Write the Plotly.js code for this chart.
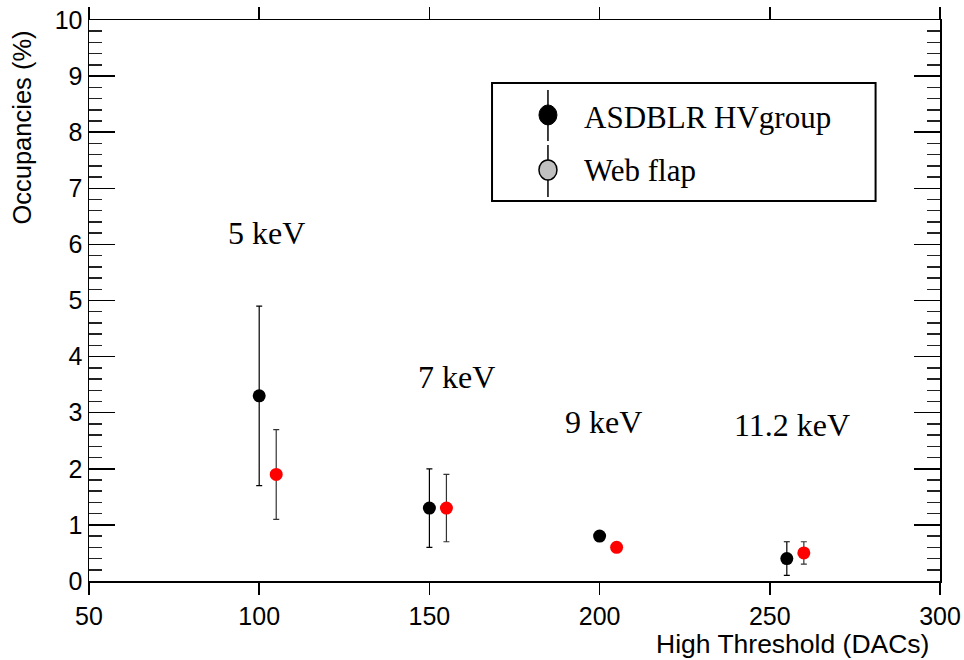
<!DOCTYPE html>
<html>
<head>
<meta charset="utf-8">
<script src="https://cdn.plot.ly/plotly-3.0.1.min.js"></script>
<style>html,body{margin:0;padding:0;background:#fff;}#chart{width:964px;height:660px;}</style>
</head>
<body>
<div id="chart"></div>
<script>
// High threshold scan: occupancy per DAC setting
const hvX = [100, 150, 200, 255];
const hvY = [3.3, 1.3, 0.8, 0.4];
const hvErr = [1.6, 0.7, 0.05, 0.3];

const webX = [105, 155, 205, 260];
const webY = [1.9, 1.3, 0.6, 0.5];
const webErr = [0.8, 0.6, 0.05, 0.2];

const energyLabels = ['5 keV', '7 keV', '9 keV', '11.2 keV'];
const energyX = [102, 158, 201, 256.5];
const energyY = [6.2, 3.64, 2.84, 2.78];

const legendNames = ['ASDBLR HVgroup', 'Web flap'];

const traces = [
  {
    x: hvX, y: hvY, type: 'scatter', mode: 'markers', name: legendNames[0],
    marker: {color: '#000', size: 13},
    error_y: {type: 'data', array: hvErr, visible: true, color: '#000', thickness: 1.2, width: 3}
  },
  {
    x: webX, y: webY, type: 'scatter', mode: 'markers', name: legendNames[1],
    marker: {color: '#ff0000', size: 13},
    error_y: {type: 'data', array: webErr, visible: true, color: '#333', thickness: 1.2, width: 3}
  }
];

const W = 964, H = 660;
const mL = 88.5, mR = 23.5, mT = 20, mB = 78.7;
const pw = W - mL - mR, ph = H - mT - mB;
const px = v => (v - mL) / pw;          // pixel x -> paper
const py = v => (H - mB - v) / ph;      // pixel y -> paper

const serif = 'Liberation Serif, Times New Roman, serif';
const sans = 'Liberation Sans, Arial, sans-serif';

const annotations = energyLabels.map((t, i) => ({
  x: energyX[i], y: energyY[i], xref: 'x', yref: 'y', text: t, showarrow: false,
  font: {family: serif, size: 32, color: '#000'}
}));

annotations.push({
  x: px(931), y: py(644), xref: 'paper', yref: 'paper', xanchor: 'right', yanchor: 'middle',
  text: 'High Threshold (DACs)', showarrow: false,
  font: {family: sans, size: 26.5, color: '#000'}
});
annotations.push({
  x: px(21), y: py(29), xref: 'paper', yref: 'paper', xanchor: 'center', yanchor: 'top',
  text: 'Occupancies (%)', textangle: -90, showarrow: false,
  font: {family: sans, size: 25.5, color: '#000'}
});

const legendRows = [118, 171];
legendNames.forEach((n, i) => {
  annotations.push({
    x: px(582), y: py(legendRows[i]), xref: 'paper', yref: 'paper', xanchor: 'left', yanchor: 'middle',
    text: n, showarrow: false,
    font: {family: serif, size: 31, color: '#000'}
  });
});

const shapes = [
  // legend frame
  {type: 'rect', xref: 'paper', yref: 'paper', x0: px(492), x1: px(876), y0: py(201), y1: py(83),
   line: {color: '#000', width: 2}, fillcolor: '#fff', layer: 'above'},
  // legend error-bar strokes
  {type: 'line', xref: 'paper', yref: 'paper', x0: px(548), x1: px(548), y0: py(90), y1: py(141),
   line: {color: '#000', width: 1.5}},
  {type: 'line', xref: 'paper', yref: 'paper', x0: px(548), x1: px(548), y0: py(145), y1: py(197),
   line: {color: '#000', width: 1.5}},
  // legend markers
  {type: 'circle', xref: 'paper', yref: 'paper', xsizemode: 'pixel', ysizemode: 'pixel',
   xanchor: px(548), yanchor: py(115), x0: -9, x1: 9, y0: -10, y1: 10,
   fillcolor: '#000', line: {color: '#000', width: 1}},
  {type: 'circle', xref: 'paper', yref: 'paper', xsizemode: 'pixel', ysizemode: 'pixel',
   xanchor: px(548), yanchor: py(170), x0: -9, x1: 9, y0: -10, y1: 10,
   fillcolor: '#c0c0c0', line: {color: '#000', width: 1.5}}
];

const layout = {
  width: W, height: H,
  margin: {l: mL, r: mR, t: mT, b: mB, pad: 0},
  paper_bgcolor: '#fff', plot_bgcolor: '#fff',
  showlegend: false,
  font: {family: sans, size: 24, color: '#000'},
  xaxis: {
    range: [50, 300], dtick: 50, tick0: 50, showgrid: false, zeroline: false,
    showline: true, linecolor: '#000', linewidth: 1.5, mirror: 'ticks',
    ticks: 'outside', ticklen: 12, tickwidth: 1.5, tickcolor: '#000',
    tickfont: {size: 25}
  },
  yaxis: {
    range: [0, 10], dtick: 1, tick0: 0, showgrid: false, zeroline: false,
    showline: true, linecolor: '#000', linewidth: 1.5, mirror: 'ticks',
    ticks: 'inside', ticklen: 26, tickwidth: 1.5, tickcolor: '#000',
    tickfont: {size: 25},
    minor: {dtick: 0.2, ticks: 'inside', ticklen: 13, tickwidth: 1.5, tickcolor: '#222', showgrid: false}
  },
  annotations: annotations,
  shapes: shapes
};

Plotly.newPlot('chart', traces, layout, {displayModeBar: false, staticPlot: true});
</script>
</body>
</html>
